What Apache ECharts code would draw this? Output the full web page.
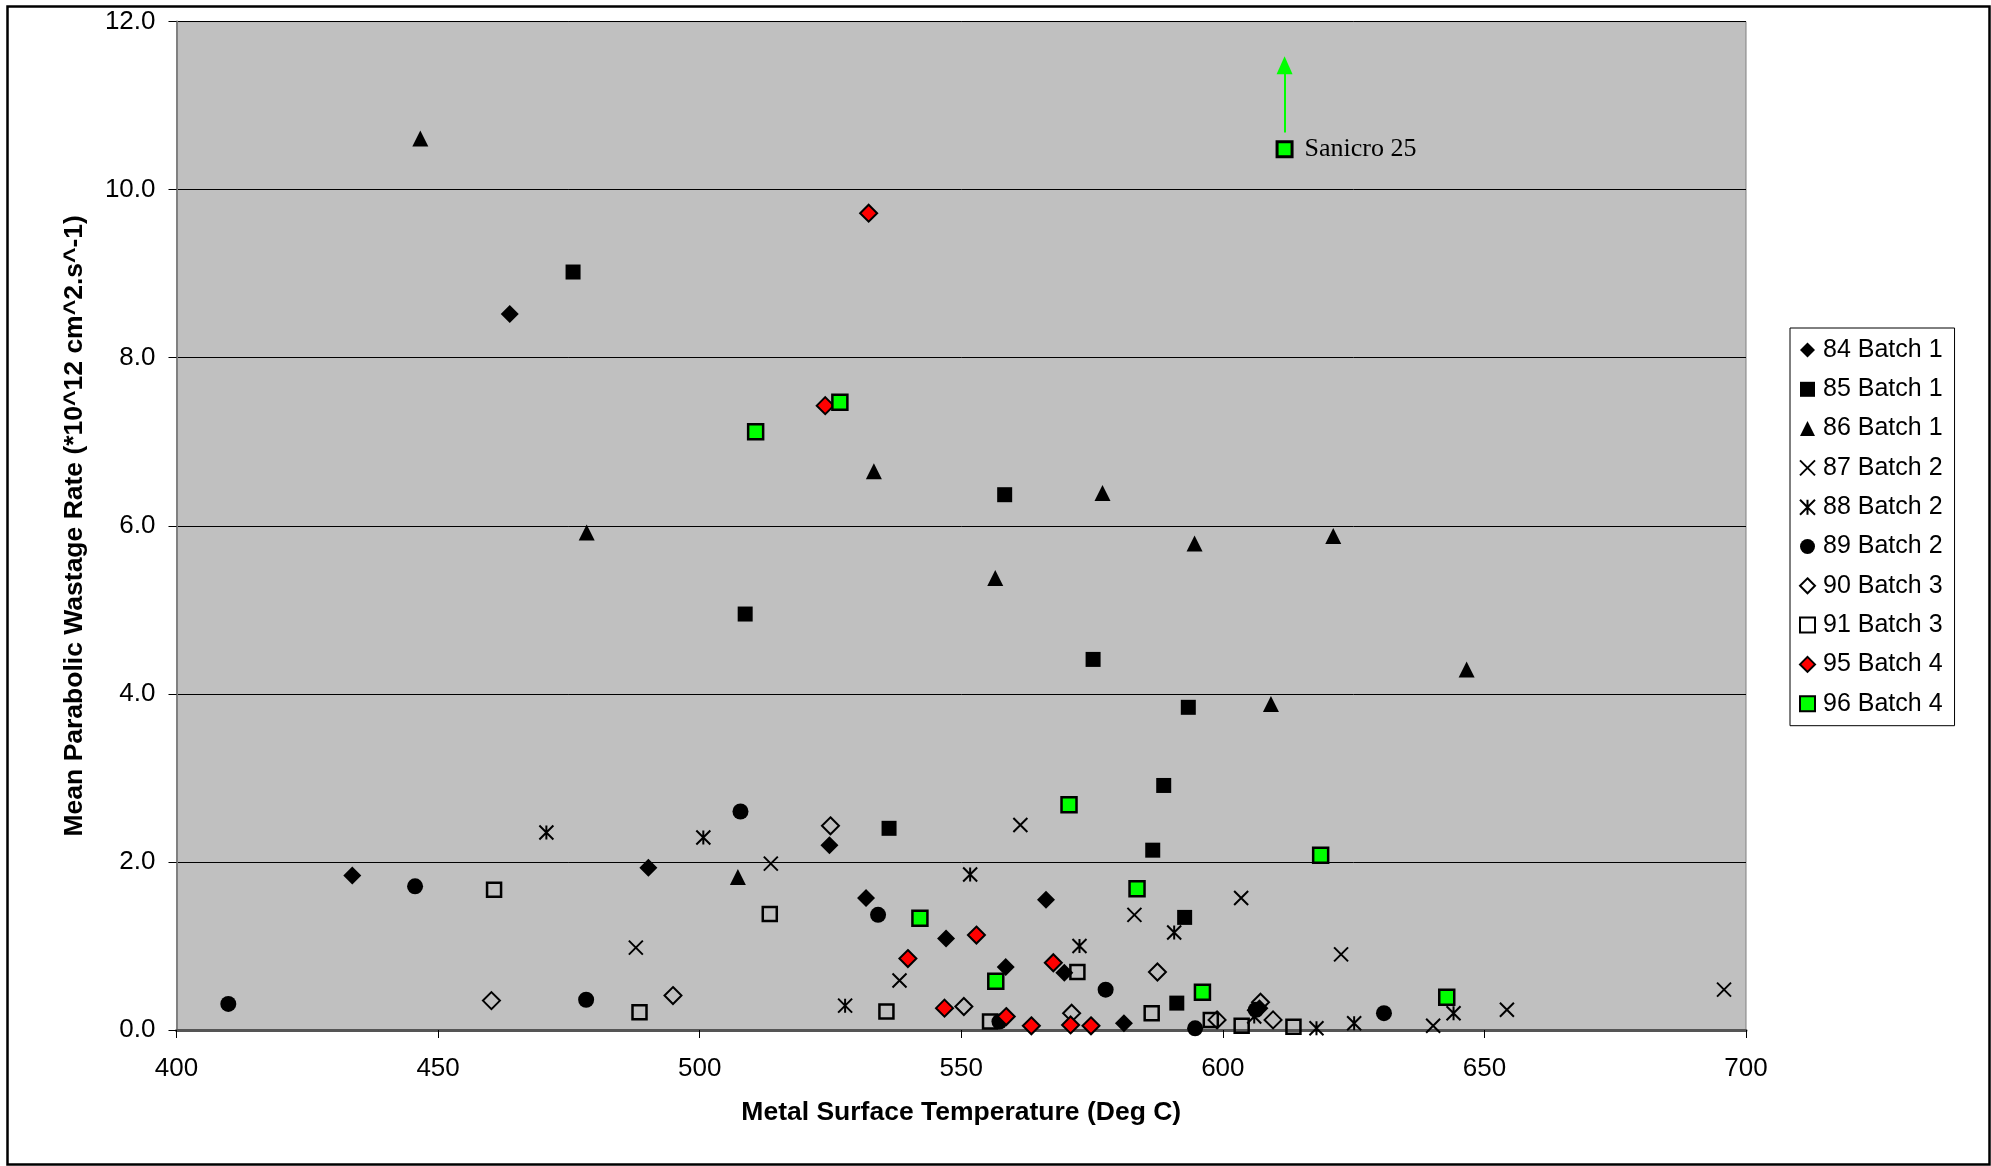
<!DOCTYPE html>
<html>
<head>
<meta charset="utf-8">
<title>Mean Parabolic Wastage Rate</title>
<script src="https://cdn.jsdelivr.net/npm/echarts@6/dist/echarts.min.js"></script>
<style>
  html, body { margin: 0; padding: 0; background: #fff; }
  #chart { width: 1991px; height: 1166px; }
</style>
</head>
<body>
<div id="chart"></div>
<script>
// [temperature degC, wastage rate]
const b84 = [[433.6,1.84],[463.7,8.52],[490.2,1.93],[524.8,2.20],[531.8,1.57],[547.1,1.09],[558.5,0.75],[566.2,1.55],[569.7,0.68],[581.1,0.08],[607.0,0.26]];
const b85 = [[475.8,9.02],[508.7,4.95],[536.2,2.40],[558.3,6.37],[575.2,4.41],[586.6,2.14],[588.7,2.91],[592.7,1.34],[593.4,3.84],[591.2,0.32]];
const b86 = [[446.6,10.61],[478.4,5.92],[507.3,1.82],[533.3,6.65],[556.5,5.38],[577.0,6.39],[594.6,5.79],[609.2,3.88],[621.1,5.88],[646.6,4.29]];
const b87 = [[487.8,0.98],[513.6,1.98],[538.2,0.59],[561.3,2.44],[583.1,1.37],[603.5,1.57],[622.6,0.90],[640.2,0.05],[654.3,0.24],[695.8,0.48]];
const b88 = [[470.7,2.35],[500.7,2.29],[527.8,0.29],[551.7,1.85],[572.6,1.00],[590.7,1.16],[606.0,0.16],[617.9,0.02],[625.1,0.08],[644.1,0.20]];
const b89 = [[409.9,0.31],[445.6,1.71],[478.3,0.36],[507.8,2.60],[534.1,1.37],[557.3,0.10],[577.6,0.48],[594.7,0.02],[606.3,0.24],[630.8,0.20]];
const b90 = [[460.2,0.35],[494.9,0.41],[525.0,2.43],[550.5,0.28],[571.1,0.20],[587.5,0.69],[598.9,0.12],[607.2,0.33],[609.6,0.12]];
const b91 = [[460.7,1.67],[488.5,0.21],[513.4,1.38],[535.7,0.22],[555.5,0.10],[572.2,0.69],[586.4,0.20],[597.7,0.12],[603.6,0.05],[613.5,0.04]];
const b95 = [[524.0,7.43],[532.3,9.72],[539.8,0.85],[546.8,0.26],[552.9,1.13],[558.6,0.16],[563.4,0.05],[567.6,0.80],[570.9,0.06],[574.8,0.05]];
const b96 = [[510.7,7.12],[526.8,7.47],[542.1,1.33],[556.6,0.58],[570.6,2.68],[583.6,1.68],[596.1,0.45],[618.7,2.08],[642.8,0.39]];
const sanicro = [611.8, 10.48];
const sanicroArrow = [[611.8, 10.68], [611.8, 11.48]];

const legendNames = ['84 Batch 1','85 Batch 1','86 Batch 1','87 Batch 2','88 Batch 2','89 Batch 2','90 Batch 3','91 Batch 3','95 Batch 4','96 Batch 4'];

var chart = echarts.init(document.getElementById('chart'));
const FONT = 'Arial, "Liberation Sans", sans-serif';
const crossPath = 'path://M0,0L10,10M10,0L0,10';
const starPath = 'path://M0,0L10,10M10,0L0,10M5,0L5,10';

function scatter(name, data, symbol, fill, border, bw, size) {
  return {
    name: name,
    type: 'scatter',
    data: data,
    symbol: symbol,
    symbolSize: size || 14,
    itemStyle: { color: fill, borderColor: border, borderWidth: bw, opacity: 1 },
    emphasis: { disabled: true }
  };
}

const series = [
  scatter(legendNames[0], b84, 'diamond', '#000', '#000', 0, 18),
  scatter(legendNames[1], b85, 'rect', '#000', '#000', 0, 15),
  scatter(legendNames[2], b86, 'triangle', '#000', '#000', 0, 16),
  scatter(legendNames[3], b87, crossPath, 'rgba(0,0,0,0)', '#000', 2, 14),
  scatter(legendNames[4], b88, starPath, 'rgba(0,0,0,0)', '#000', 2, 14),
  scatter(legendNames[5], b89, 'circle', '#000', '#000', 0, 16),
  scatter(legendNames[6], b90, 'diamond', 'rgba(0,0,0,0)', '#000', 2, 17),
  scatter(legendNames[7], b91, 'rect', 'rgba(0,0,0,0)', '#000', 2.5, 14),
  scatter(legendNames[8], b95, 'diamond', '#ff0000', '#000', 2, 17),
  scatter(legendNames[9], b96.concat([{
    value: sanicro,
    label: {
      show: true, formatter: 'Sanicro 25', position: 'right', distance: 11,
      color: '#000', fontFamily: '"Times New Roman", "Liberation Serif", serif', fontSize: 26
    },
    itemStyle: { borderWidth: 3 }
  }]), 'rect', '#00ff00', '#000', 2.5, 15)
];
series[9].markLine = {
  silent: true,
  symbol: ['none', 'triangle'],
  symbolSize: [16, 18],
  label: { show: false },
  lineStyle: { color: '#00ff00', width: 2, type: 'solid' },
  data: [[{ coord: sanicroArrow[0] }, { coord: sanicroArrow[1] }]]
};

var option = {
  backgroundColor: '#fff',
  animation: false,
  textStyle: { fontFamily: FONT },
  graphic: [{
    type: 'rect', left: 5, top: 4, z: 100, silent: true,
    shape: { width: 1982, height: 1158 },
    style: { fill: 'none', stroke: '#000', lineWidth: 2.5 }
  }],
  grid: {
    left: 176.5, right: 245, top: 21.6, bottom: 136,
    show: true, backgroundColor: '#c0c0c0', borderColor: '#808080', borderWidth: 1
  },
  legend: {
    orient: 'vertical',
    left: 1790, top: 328,
    data: legendNames,
    backgroundColor: '#fff',
    borderColor: '#000', borderWidth: 1,
    padding: [9, 12, 9, 9],
    itemWidth: 15, itemHeight: 15, itemGap: 13.3,
    textStyle: { fontSize: 25, color: '#000', fontFamily: FONT, lineHeight: 26, padding: [0, 0, 0, 3] }
  },
  xAxis: {
    type: 'value', min: 400, max: 700, interval: 50,
    name: 'Metal Surface Temperature (Deg C)',
    nameLocation: 'middle', nameGap: 69,
    nameTextStyle: { fontSize: 26.5, fontWeight: 'bold', color: '#000', fontFamily: FONT },
    axisLine: { onZero: false, lineStyle: { color: '#555', width: 3 } },
    axisTick: { show: true, length: 8, lineStyle: { color: '#000', width: 1 } },
    axisLabel: { fontSize: 26, color: '#000', margin: 26, fontFamily: FONT },
    splitLine: { show: false }
  },
  yAxis: {
    type: 'value', min: 0, max: 12, interval: 2,
    name: 'Mean Parabolic Wastage Rate (*10^12 cm^2.s^-1)',
    nameLocation: 'middle', nameGap: 88, nameRotate: 90,
    nameTextStyle: { fontSize: 26.5, fontWeight: 'bold', color: '#000', fontFamily: FONT },
    axisLine: { show: true, lineStyle: { color: '#808080', width: 2 } },
    axisTick: { show: true, length: 8, lineStyle: { color: '#000', width: 1 } },
    axisLabel: { fontSize: 26, color: '#000', margin: 21, fontFamily: FONT, formatter: v => v.toFixed(1) },
    splitLine: { show: true, lineStyle: { color: '#000', width: 1 } }
  },
  series: series
};
chart.setOption(option);
</script>
</body>
</html>
